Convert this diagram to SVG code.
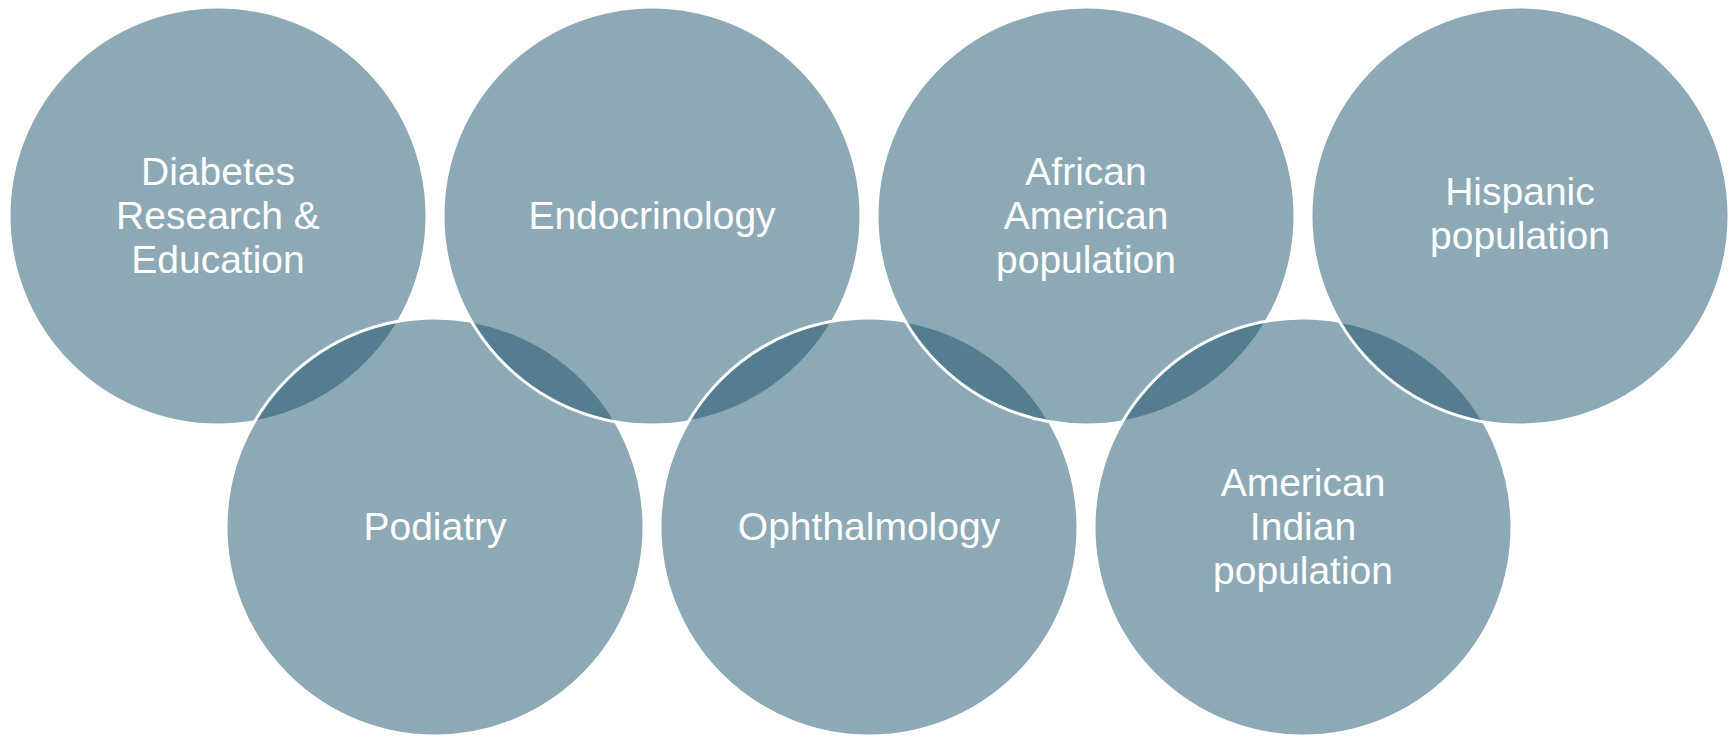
<svg xmlns="http://www.w3.org/2000/svg" width="1734" height="737" viewBox="0 0 1734 737">
  <style>
    .disc { fill: #1B536B; fill-opacity: 0.5; stroke: #FFFFFF; stroke-width: 3; }
    .label { fill: #FFFFFF; font-family: "Liberation Sans", Arial, sans-serif; font-size: 39px; text-anchor: middle; }
  </style>
  <rect width="1734" height="737" fill="#FFFFFF"/>
  <!-- circles are stacked left to right, alternating top and bottom rows -->
  <g id="node-diabetes">
    <circle class="disc" cx="218" cy="216" r="209"/>
    <text class="label" x="218"><tspan x="218" y="185">Diabetes</tspan><tspan x="218" y="229">Research &amp;</tspan><tspan x="218" y="273">Education</tspan></text>
  </g>
  <g id="node-podiatry">
    <circle class="disc" cx="435" cy="527" r="209"/>
    <text class="label" x="435" y="540">Podiatry</text>
  </g>
  <g id="node-endocrinology">
    <circle class="disc" cx="652" cy="216" r="209"/>
    <text class="label" x="652" y="229">Endocrinology</text>
  </g>
  <g id="node-ophthalmology">
    <circle class="disc" cx="869" cy="527" r="209"/>
    <text class="label" x="869" y="540">Ophthalmology</text>
  </g>
  <g id="node-african-american">
    <circle class="disc" cx="1086" cy="216" r="209"/>
    <text class="label"><tspan x="1086" y="185">African</tspan><tspan x="1086" y="229">American</tspan><tspan x="1086" y="273">population</tspan></text>
  </g>
  <g id="node-american-indian">
    <circle class="disc" cx="1303" cy="527" r="209"/>
    <text class="label"><tspan x="1303" y="496">American</tspan><tspan x="1303" y="540">Indian</tspan><tspan x="1303" y="584">population</tspan></text>
  </g>
  <g id="node-hispanic">
    <circle class="disc" cx="1520" cy="216" r="209"/>
    <text class="label"><tspan x="1520" y="205">Hispanic</tspan><tspan x="1520" y="249">population</tspan></text>
  </g>
  <g id="connectors"/>
</svg>
